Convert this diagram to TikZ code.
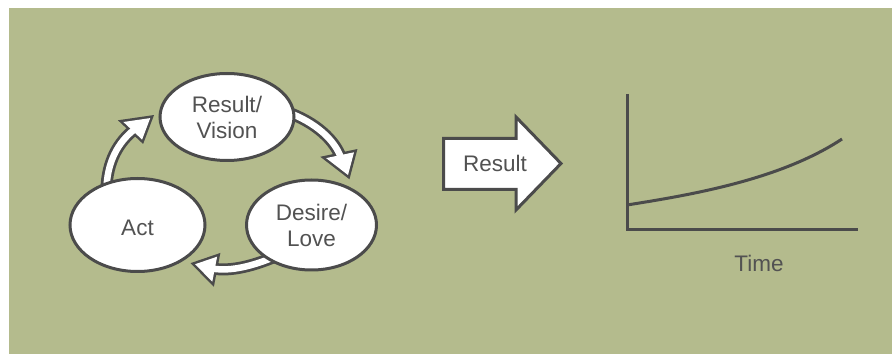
\documentclass[tikz,border=0pt]{standalone}
\usepackage{fontspec}
\setmainfont{Liberation Sans}
\usetikzlibrary{shapes.geometric,calc}
\definecolor{bgc}{RGB}{180,187,141}
\definecolor{dk}{RGB}{75,75,75}
\definecolor{txt}{RGB}{82,82,82}
\newcommand{\lblfont}{\fontsize{22.5}{26}\selectfont}
\newcommand{\hollowarr}[4]{%
  \draw[line width=12pt, draw=dk] #1;
  \filldraw[fill=dk, draw=dk, line width=5pt, line join=miter] #2 -- #3 -- #4 -- cycle;
  \draw[line width=6.5pt, white] #1;
  \fill[white] #2 -- #3 -- #4 -- cycle;
}
\pgfdeclarelayer{back}
\pgfdeclarelayer{bg}
\pgfsetlayers{back,bg,main}
\tikzset{
  ell/.style={ellipse, draw=dk, fill=white, line width=3pt, inner sep=0pt,
    text=txt, font=\lblfont, align=center},
  lbl/.style={text=txt, font=\lblfont, inner sep=0pt},
  axis/.style={draw=dk, line width=3pt},
}
\begin{document}
\begin{tikzpicture}[x=1pt,y=-1pt]
\useasboundingbox (0,0) rectangle (892,355);
\begin{pgfonlayer}{back}
  \fill[bgc] (9,8) rectangle (892,354);
\end{pgfonlayer}

% cycle ellipses
\node[ell, minimum width=134pt, minimum height=87pt] (res) at (227,117) {Result/\\Vision};
\node[ell, minimum width=135pt, minimum height=93pt, text height=21pt, text depth=0pt] (act) at (137.5,225) {Act};
\node[ell, minimum width=130pt, minimum height=90pt] (des) at (311.5,225) {Desire/\\Love};

% arrow head coordinates
\coordinate (h1a) at (123.4,122);
\coordinate (h1t) at (150.2,118.1);
\coordinate (h1b) at (142.1,139.6);
\coordinate (h2a) at (326.1,158.1);
\coordinate (h2t) at (348.0,175.0);
\coordinate (h2b) at (354.0,152.3);
\coordinate (h3a) at (217.1,256.7);
\coordinate (h3t) at (195.1,264.2);
\coordinate (h3b) at (212.3,281.7);

\begin{pgfonlayer}{bg}
  \hollowarr{($(act.126)+(0,8)$) .. controls (107,162) and (118,142) .. (135,129)}{(h1a)}{(h1t)}{(h1b)}
  \hollowarr{($(res.5)+(-8,1)$) .. controls (315,122) and (335,140) .. (341,158)}{(h2a)}{(h2t)}{(h2b)}
  \hollowarr{($(des.218)+(8,-3)$) .. controls (255,265) and (232,272) .. (212,268.5)}{(h3a)}{(h3t)}{(h3b)}
\end{pgfonlayer}

% big block arrow
\draw[dk, fill=white, line width=3pt, line join=miter]
  (443.5,138.5) -- (516,138.5) -- (516,117) -- (561,163.5) -- (516,210)
  -- (516,189.5) -- (443.5,189.5) -- cycle;
\node[lbl] (resarrow) at (495,163) {Result};

% graph
\coordinate (ytop) at (627,94);
\coordinate (orig) at (627,230);
\coordinate (xend) at (858,230);
\draw[axis, line join=miter] (ytop) -- (orig) -- (xend);
\coordinate (c0) at (627,205);
\coordinate (c1) at (842,139);
\draw[draw=dk, line width=3pt] (c0) .. controls (690,195) and (780,180) .. (c1);
\node[lbl] (time) at (759,263) {Time};
\end{tikzpicture}
\end{document}
